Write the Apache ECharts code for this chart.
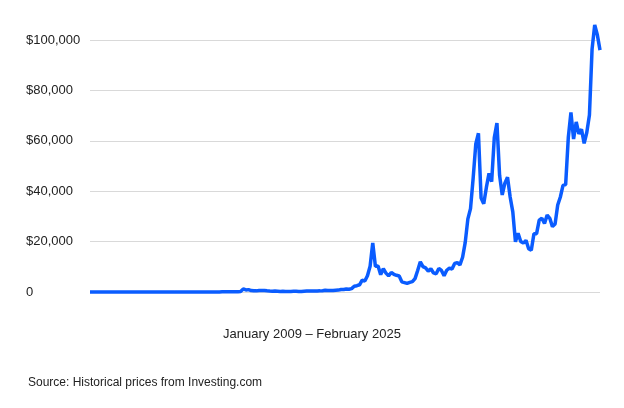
<!DOCTYPE html>
<html><head><meta charset="utf-8">
<script src="https://cdn.jsdelivr.net/npm/echarts@6/dist/echarts.min.js"></script>
<style>html,body{margin:0;padding:0;background:#fff}#c{width:624px;height:408px}</style>
</head><body><div id="c"></div>
<script>
const years = [2009,2010,2011,2012,2013,2014,2015,2016,2017,2018,2019,2020,2021,2022,2023,2024,2025];
const prices2009 = [0,0,0,0,0,0,0,0,0,0,0,0];
const prices2010 = [0,0,0,0,0,0,0.07,0.06,0.06,0.19,0.21,0.3];
const prices2011 = [0.5,0.9,0.8,3.5,8.7,16.7,13.4,8.2,5.1,3.2,3.0,4.7];
const prices2012 = [5.5,4.9,4.9,5.0,5.2,6.7,9.3,10.1,12.4,11.2,12.6,13.5];
const prices2013 = [20,33,93,139,128,97,106,141,133,211,1205,805];
const prices2014 = [938,573,458,447,628,640,585,478,387,338,378,320];
const prices2015 = [217,254,244,236,230,263,284,230,236,314,378,430];
const prices2016 = [369,437,416,448,531,674,624,575,609,701,745,964];
const prices2017 = [970,1190,1080,1350,2300,2500,2870,4700,4340,6470,10200,19500];
const prices2018 = [10200,10300,6900,9240,7500,6400,7730,7030,6630,6370,4040,3740];
const prices2019 = [3440,3820,4100,5300,8560,12000,10100,9600,8300,9200,7560,7200];
const prices2020 = [9350,8550,6440,8630,9460,9140,11350,11650,10780,13800,19700,29000];
const prices2021 = [33100,45200,58800,63000,37300,35000,41500,47100,43800,61300,67000,46300];
const prices2022 = [38500,43200,45500,37700,31800,19900,23300,20050,19400,20500,17200,16550];
const prices2023 = [23100,23150,28500,29250,27200,30500,29250,25950,26950,34500,37700,42300];
const prices2024 = [42600,61200,71300,60700,67500,62700,64600,59000,63300,70200,96400,106000];
const prices2025 = [102000,96000];
const allPrices = [].concat(prices2009,prices2010,prices2011,prices2012,prices2013,prices2014,prices2015,prices2016,prices2017,prices2018,prices2019,prices2020,prices2021,prices2022,prices2023,prices2024,prices2025);
const categories = [];
years.forEach(y=>{for(let m=1;m<=12;m++){ if(categories.length<allPrices.length) categories.push(y+'-'+m);} });

const font = 'Liberation Sans, Arial';
const chart = echarts.init(document.getElementById('c'));
chart.setOption({
  animation:false,
  grid:{left:90,right:24,top:40,bottom:116},
  xAxis:{type:'category',data:categories,boundaryGap:false,
    axisLine:{show:false},axisTick:{show:false},axisLabel:{show:false}},
  yAxis:{type:'value',min:0,max:100000,interval:20000,
    axisLine:{show:false},axisTick:{show:false},
    splitLine:{lineStyle:{color:'#d9d9d9'}},
    axisLabel:{margin:64,align:'left',color:'#222',fontSize:13,fontFamily:font,
      formatter:v=>v===0?'0':'$'+v.toLocaleString('en-US')}},
  graphic:[
    {type:'text',left:'center',top:328,style:{text:'January 2009 – February 2025',fill:'#222',fontSize:13,fontFamily:font}},
    {type:'text',left:28,top:377,style:{text:'Source: Historical prices from Investing.com',fill:'#222',fontSize:12,fontFamily:font}}
  ],
  series:[{type:'line',data:allPrices,showSymbol:false,clip:false,lineStyle:{color:'#0a5cff',width:3.5},itemStyle:{color:'#0a5cff'}}]
});
</script></body></html>
